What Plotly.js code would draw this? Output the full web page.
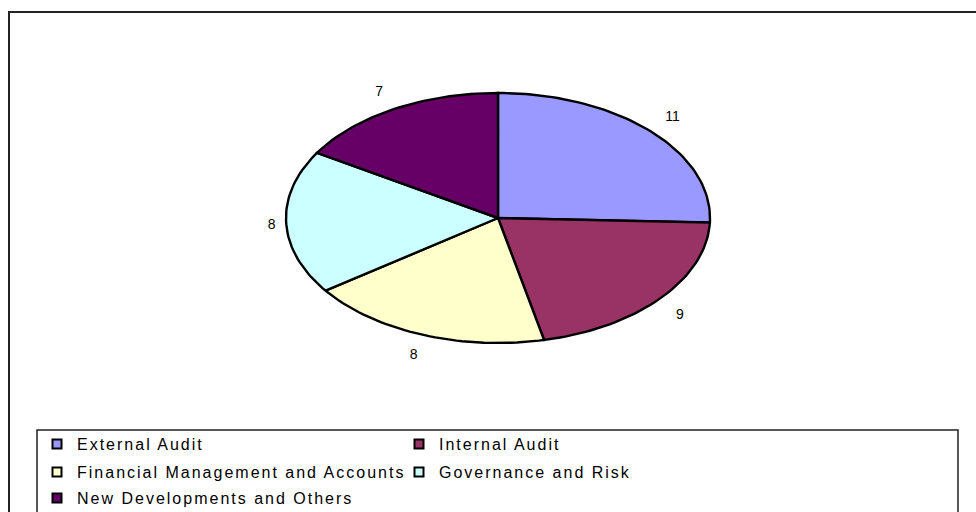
<!DOCTYPE html>
<html>
<head>
<meta charset="utf-8">
<script src="https://cdn.plot.ly/plotly-3.0.1.min.js"></script>
<style>
  html, body { margin: 0; padding: 0; background: #ffffff; }
  #chart { width: 976px; height: 512px; }
  .legendtext, .legend2text, .legend3text, text.legendtext { letter-spacing: 2px; }
</style>
</head>
<body>
<div id="chart"></div>
<script>
// ---- data ----
var categories = [
  "External Audit",
  "Internal Audit",
  "Financial Management and Accounts",
  "Governance and Risk",
  "New Developments and Others"
];
var values = [11, 9, 8, 8, 7];
var colors = ["#9999FF", "#993366", "#FFFFCC", "#CCFFFF", "#660066"];
var legendRow = ["legend", "legend", "legend2", "legend2", "legend3"];

// ---- layout constants (pixel geometry of the elliptical pie) ----
var W = 976, H = 512;
var CX = 498, CY = 218, RX = 212, RY = 125;
var LABEL_DY = 2;

var total = values.reduce(function (a, b) { return a + b; }, 0);
var traces = [];
var labelX = [], labelY = [], labelPos = [], labelText = [];
var cum = 0;
values.forEach(function (v, i) {
  var t0 = cum / total * 2 * Math.PI;
  cum += v;
  var t1 = cum / total * 2 * Math.PI;
  var xs = [CX], ys = [CY];
  var steps = Math.max(8, Math.ceil((t1 - t0) / (2 * Math.PI) * 240));
  for (var k = 0; k <= steps; k++) {
    var t = t0 + (t1 - t0) * k / steps;
    xs.push(CX + RX * Math.sin(t));
    ys.push(CY - RY * Math.cos(t));
  }
  xs.push(CX); ys.push(CY);
  traces.push({
    type: "scatter", mode: "lines", x: xs, y: ys,
    fill: "toself", fillcolor: colors[i],
    line: { color: "#000000", width: 2.4 },
    name: categories[i], showlegend: false, hoverinfo: "name"
  });
  var tm = (t0 + t1) / 2;
  var s = Math.sin(tm), c = Math.cos(tm);
  var gx = 10 + 15 * Math.abs(c), gy = 13;
  labelX.push(CX + (RX + gx) * s);
  labelY.push(CY + LABEL_DY - (RY + gy) * c);
  var hp = s > 0.4 ? "right" : (s < -0.4 ? "left" : "center");
  var vp = c > 0.4 ? "top" : (c < -0.4 ? "bottom" : "middle");
  labelPos.push(vp + " " + hp);
  labelText.push(String(v));
});

traces.push({
  type: "scatter", mode: "text", x: labelX, y: labelY,
  text: labelText, textposition: labelPos,
  textfont: { family: "Liberation Sans, Arial, sans-serif", size: 14, color: "#000000" },
  showlegend: false, hoverinfo: "skip"
});

categories.forEach(function (name, i) {
  traces.push({
    type: "scatter", mode: "markers", x: [null], y: [null],
    name: name, legend: legendRow[i],
    marker: { symbol: "square", size: 9, color: colors[i], line: { color: "#000000", width: 2 } },
    hoverinfo: "skip"
  });
});

function legendAt(top) {
  return {
    orientation: "h",
    x: 37 / W, xanchor: "left",
    y: 1 - top / H, yanchor: "top",
    entrywidth: 317, entrywidthmode: "pixels",
    bgcolor: "rgba(0,0,0,0)", borderwidth: 0,
    font: { family: "Liberation Sans, Arial, sans-serif", size: 16, color: "#000000" },
    traceorder: "normal"
  };
}

var layout = {
  width: W, height: H,
  margin: { l: 0, r: 0, t: 0, b: 0, autoexpand: false },
  paper_bgcolor: "#ffffff", plot_bgcolor: "#ffffff",
  xaxis: { range: [0, W], visible: false, fixedrange: true },
  yaxis: { range: [H, 0], visible: false, fixedrange: true },
  showlegend: true,
  legend: legendAt(427),
  legend2: legendAt(455),
  legend3: legendAt(481),
  shapes: [
    { type: "rect", xref: "x", yref: "y", x0: 9, y0: 12, x1: 1000, y1: 540,
      line: { color: "#222222", width: 2 }, fillcolor: "rgba(0,0,0,0)", layer: "below" },
    { type: "rect", xref: "x", yref: "y", x0: 37, y0: 430, x1: 958, y1: 540,
      line: { color: "#222222", width: 1.5 }, fillcolor: "rgba(0,0,0,0)", layer: "below" }
  ]
};

Plotly.newPlot("chart", traces, layout, { displayModeBar: false, staticPlot: true });
</script>
</body>
</html>
